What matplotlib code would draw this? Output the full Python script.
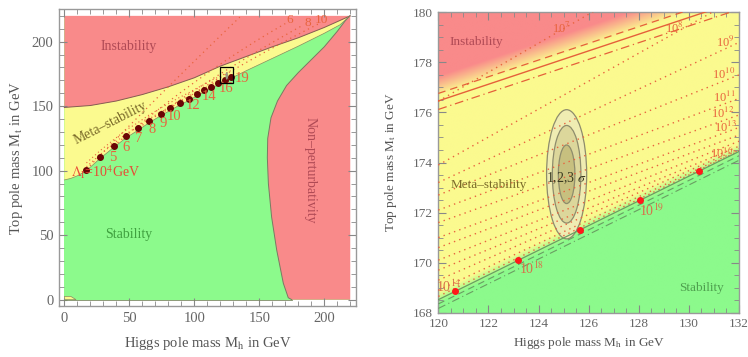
import numpy as np
import matplotlib
matplotlib.use('Agg')
import matplotlib.pyplot as plt
from matplotlib.patches import Polygon, Rectangle, Ellipse

plt.rcParams['font.family'] = ['Liberation Serif', 'DejaVu Serif']
plt.rcParams['mathtext.fontset'] = 'stix'

RED = '#f98a8a'
YELLOW = '#fbfa8f'
GREEN = '#8cfa8c'
ORANGE = '#e8643e'

# ---------------- left panel data ----------------
inst_x = [0, 20, 40, 60, 80, 100, 120, 140, 160, 180, 200, 220]
inst_y = [149, 150.5, 154, 159, 165, 172, 181, 188.5, 196, 203, 211, 220]

stab_x = [0, 5, 10, 17, 27.5, 38, 47.5, 57, 65, 74, 82, 89, 96, 102, 108, 113,
          118.5, 123.5, 128, 140, 160, 180, 200, 212, 220]
stab_y = [92.8, 94, 96, 100, 109.5, 118, 125.5, 131.5, 137, 142.5, 147, 151, 154.5,
          158, 161, 164, 166.5, 169, 171.5, 177.5, 187, 196.5, 206.5, 213, 220]

npert_x = [219.5, 216, 210, 200, 190, 180, 171, 164, 159, 156.5, 156.2, 157,
           159.5, 163.4, 168.5, 172.3, 175]
npert_y = [220, 216, 208, 196, 186, 176, 166, 154, 141, 125, 110, 90,
           64, 38.5, 12.7, 1.5, 0]

# Lambda_I points along the stability edge (10^4 ... 10^19 GeV)
lam_x = [16.7, 27.5, 38, 47.5, 56.9, 65.2, 74.2, 81.6, 89, 95.7, 101.8, 107.5,
         112.8, 118.5, 123.4, 128.2]
lam_y = [100.8, 110.9, 119.4, 126.9, 133.1, 138.8, 143.7, 148.4, 152.2, 155.8,
         159.2, 162.3, 165.1, 167.7, 170.2, 172.9]
lam_txt = ['5', '6', '7', '8', '9', '10', '12', '14', '16', '19']
lam_tx = [37.2, 47.5, 57.2, 67.2, 75.7, 84.6, 98.8, 111.5, 124.4, 136.5]
lam_ty = [110.0, 118.1, 125.1, 132.1, 136.7, 141.9, 150.9, 157.4, 163.5, 171.6]

# instability-scale contours (dotted)
cont_x = [[17, 75, 135], [38, 105, 170], [57, 120, 184], [74, 135, 196]]
cont_y = [[101, 160, 219], [119, 172, 214], [133, 175, 213], [144, 181, 214]]
cont_lab = ['', '6', '8', '10']
cont_lab_x = [0, 173.6, 187.7, 198]
cont_lab_y = [0, 216.5, 214.5, 216.5]

# ---------------- right panel data ----------------
r_inst_x = [120, 132]
r_inst_y = [176.46, 180.46]
r_stab_x = [120, 132]
r_stab_y = [168.52, 174.44]

lam_exp = [7, 8, 9, 10, 11, 12, 13, 14, 15, 16, 17, 18, 19]
lam_y120 = [176.45, 173.9, 173.2, 172.7, 172.1, 171.6, 171.0, 170.6, 170.1,
            169.7, 169.3, 168.9, 168.65]
lam_y132 = [183.4, 180.6, 178.8, 177.5, 176.56, 175.9, 175.4, 175.1, 174.85,
            174.65, 174.55, 174.5, 174.47]

r_lab_txt = ['10$^{7}$', '10$^{8}$', '10$^{9}$', '10$^{10}$', '10$^{11}$',
             '10$^{12}$', '10$^{13}$', '10$^{16}$']
r_lab_x = [124.9, 129.4, 131.45, 131.4, 131.4, 131.35, 131.45, 131.3]
r_lab_y = [179.36, 179.36, 178.8, 177.5, 176.6, 175.95, 175.4, 174.36]

r_dot_x = [120.67, 123.18, 125.64, 128.04, 130.4]
r_dot_y = [168.85, 170.09, 171.3, 172.49, 173.65]
r_dot_txt = ['10$^{14}$', '10$^{18}$', '', '10$^{19}$', '']
r_dot_tx = [120.4, 123.72, 0, 128.52, 0]
r_dot_ty = [169.02, 169.76, 0, 172.09, 0]

sig_center = (125.12, 173.53)
sig_ax = [0.8, 0.57, 0.33]
sig_ay = [2.58, 1.95, 1.17]
sig_col = ['#efecb2', '#dcd79b', '#c7c07f']

fig = plt.figure(figsize=(7.48, 3.57), dpi=100)
ax1 = fig.add_axes([0.0789, 0.1429, 0.397, 0.8311])
ax2 = fig.add_axes([0.586, 0.1241, 0.402, 0.8414])

# ---------------- left panel ----------------
ax1.add_patch(Rectangle((0, 0), 220, 220, fc=GREEN, ec='none', zorder=0))
ax1.add_patch(Polygon([(0, 0), (0, 2.5), (5, 2.5), (9, 0)], closed=True,
                      fc=YELLOW, ec='#8a8a60', lw=0.5, zorder=1))
yel = list(zip(stab_x, stab_y)) + list(zip(inst_x, inst_y))[::-1]
ax1.add_patch(Polygon(yel, closed=True, fc=YELLOW, ec='none', zorder=1))
top = list(zip(inst_x, inst_y)) + [(220, 220), (0, 220)]
ax1.add_patch(Polygon(top, closed=True, fc=RED, ec='none', zorder=1))
npr = list(zip(npert_x, npert_y)) + [(220, 0), (220, 220)]
ax1.add_patch(Polygon(npr, closed=True, fc=RED, ec='none', zorder=1))
ax1.plot(inst_x, inst_y, color='#8a5a52', lw=0.7, zorder=2)
ax1.plot(stab_x, stab_y, color='#8a8a60', lw=0.5, zorder=2)
ax1.plot(npert_x, npert_y, color='#7a7a62', lw=0.7, zorder=2)
ax1.plot([0, 175], [0, 0], color='#7a8a62', lw=0.6, zorder=2)

for cx, cy in zip(cont_x, cont_y):
    c = np.polyfit(cx, cy, 2)
    xx = np.linspace(cx[0], cx[-1], 100)
    ax1.plot(xx, np.polyval(c, xx), color=ORANGE, lw=0.9, ls=(0, (1, 3)), zorder=3)
for s, x, y in zip(cont_lab, cont_lab_x, cont_lab_y):
    if s:
        ax1.text(x, y, s, color=ORANGE, fontsize=9.5, ha='center', va='center', zorder=4)
# dotted band just above the dots
for off in [3, 6]:
    xx = np.array(stab_x[3:19])
    ax1.plot(xx, np.array(stab_y[3:19]) + off, color=ORANGE, lw=0.8,
             ls=(0, (1, 2.5)), zorder=3)

ax1.plot(lam_x, lam_y, 'o', color='#6b0505', ms=4.0, zorder=5)
for s, x, y in zip(lam_txt, lam_tx, lam_ty):
    ax1.text(x, y, s, color=ORANGE, fontsize=10.5, ha='center', va='center', zorder=5)
ax1.text(32.0, 98.8, r'$\Lambda_\mathrm{I}$=10$^4$GeV', color='#e84a35', fontsize=10,
         ha='center', va='center', zorder=5)
ax1.add_patch(Rectangle((120, 168), 10, 12, fc='none', ec='black', lw=0.9, zorder=6))
ax1.add_patch(Ellipse((125, 173.5), 2, 6, fc='#9a9a80', ec='none', zorder=5))

ax1.text(49.2, 196.1, 'Instability', color='#b04a55', fontsize=10, ha='center', va='center')
ax1.text(35.2, 136.7, 'Meta\u2013stability', color='#7a6a2a', fontsize=10, ha='center',
         va='center', rotation=27)
ax1.text(49.9, 50.2, 'Stability', color='#3fa03f', fontsize=10, ha='center', va='center')
ax1.text(189, 100.5, 'Non\u2013perturbativity', color='#b04a55', fontsize=10,
         ha='center', va='center', rotation=-90)

ax1.set_xlim(-4.1, 224.4)
ax1.set_ylim(-4.9, 225.1)
ax1.set_xticks([0, 50, 100, 150, 200])
ax1.set_yticks([0, 50, 100, 150, 200])
ax1.set_xticks(np.arange(0, 221, 10), minor=True)
ax1.set_yticks(np.arange(0, 221, 10), minor=True)

# ---------------- right panel ----------------
xs = np.linspace(120, 132, 500)
ys = np.linspace(168, 180, 500)
X, Y = np.meshgrid(xs, ys)
yI = np.interp(X, r_inst_x, r_inst_y)
yS = np.interp(X, r_stab_x, r_stab_y)
tr = np.clip((Y - yI - 0.2) / 0.8, 0, 1)
tg = np.clip((yS + 0.3 - Y) / 0.45, 0, 1)
rgb = lambda h: np.array(matplotlib.colors.to_rgb(h))
img = (rgb(YELLOW) * (1 - tr - tg)[..., None] + rgb(RED) * tr[..., None]
       + rgb(GREEN) * tg[..., None])
ax2.imshow(img, extent=[120, 132, 168, 180], origin='lower', aspect='auto',
           interpolation='bilinear', zorder=0)

for a, b, sc in zip(sig_ax, sig_ay, sig_col):
    ax2.add_patch(Ellipse(sig_center, 2 * a, 2 * b, fc=sc, ec='#8e8c6c', lw=0.9, zorder=2))

xl = np.linspace(120, 132, 300)
ysl = np.interp(xl, r_stab_x, r_stab_y)
for k, a, b in zip(lam_exp, lam_y120, lam_y132):
    yl = a + (b - a) * (xl - 120) / 12
    yl = np.where(yl > ysl + 0.02, yl, np.nan)
    ax2.plot(xl, yl, color=ORANGE, lw=1.0, ls=(0, (1, 3)), zorder=3)

ri = np.array(r_inst_y)
ax2.plot(r_inst_x, ri, color='#e5603a', lw=1.0, zorder=4)
ax2.plot(r_inst_x, ri + 0.3, color='#e5603a', lw=0.9, ls=(0, (6, 4)), zorder=4)
ax2.plot(r_inst_x, ri - 0.34, color='#e5603a', lw=0.9, ls=(0, (7, 3, 1, 3)), zorder=4)
rs = np.array(r_stab_y)
ax2.plot(r_stab_x, rs, color='#6a9e62', lw=0.9, zorder=4)
ax2.plot(r_stab_x, rs - 0.17, color='#6a9e62', lw=0.8, ls=(0, (6, 4)), zorder=4)
ax2.plot(r_stab_x, rs - 0.35, color='#6a9e62', lw=0.8, ls=(0, (7, 3, 1, 3)), zorder=4)

ax2.plot(r_dot_x, r_dot_y, 'o', color='#ff1a1a', ms=4, zorder=6)
for s, x, y in zip(r_dot_txt, r_dot_tx, r_dot_ty):
    if s:
        ax2.text(x, y, s, color='#d8704a', fontsize=10, ha='center', va='center',
                 zorder=6, clip_on=True)
for s, x, y in zip(r_lab_txt, r_lab_x, r_lab_y):
    ax2.text(x, y, s, color=ORANGE, fontsize=9, ha='center', va='center', zorder=6,
             clip_on=True)

ax2.text(sig_center[0], 173.36, r'1,2,3 $\sigma$', color='#3a3a20', fontsize=10,
         ha='center', va='center', zorder=6)
ax2.text(121.5, 178.8, 'Instability', color='#b04a55', fontsize=9.5, ha='center', va='center')
ax2.text(122.0, 173.1, 'Meta\u2013stability', color='#7a6a2a', fontsize=9.5,
         ha='center', va='center')
ax2.text(130.5, 169.0, 'Stability', color='#4fa04f', fontsize=9.5, ha='center', va='center')

ax2.set_xlim(120, 132)
ax2.set_ylim(168, 180)
ax2.set_xticks(np.arange(120, 133, 2))
ax2.set_yticks(np.arange(168, 181, 2))
ax2.set_xticks(np.arange(120, 132.1, 0.5), minor=True)
ax2.set_yticks(np.arange(168, 180.1, 0.5), minor=True)

for ax, fs in [(ax1, 10.5), (ax2, 9.5)]:
    ax.tick_params(which='both', direction='in', top=True, right=True, color='#888888',
                   labelcolor='#666666', labelsize=fs, pad=4)
    ax.tick_params(which='major', length=6)
    ax.tick_params(which='minor', length=3.5)
    for sp in ax.spines.values():
        sp.set_color('#999999')
        sp.set_linewidth(1.0)

fig.text(207.5 / 748, 1 - 343 / 357, r'Higgs pole mass M$_\mathrm{h}$ in GeV',
         color='#555555', fontsize=10.5, ha='center', va='center')
fig.text(17 / 748, 1 - 157.6 / 357, r'Top pole mass M$_\mathrm{t}$ in GeV',
         color='#555555', fontsize=10.5, ha='center', va='center', rotation=90)
fig.text(588.7 / 748, 1 - 343 / 357, r'Higgs pole mass M$_\mathrm{h}$ in GeV',
         color='#555555', fontsize=9.5, ha='center', va='center')
fig.text(391 / 748, 1 - 162.5 / 357, r'Top pole mass M$_\mathrm{t}$ in GeV',
         color='#555555', fontsize=9.5, ha='center', va='center', rotation=90)

fig.savefig('out.png', dpi=100)
